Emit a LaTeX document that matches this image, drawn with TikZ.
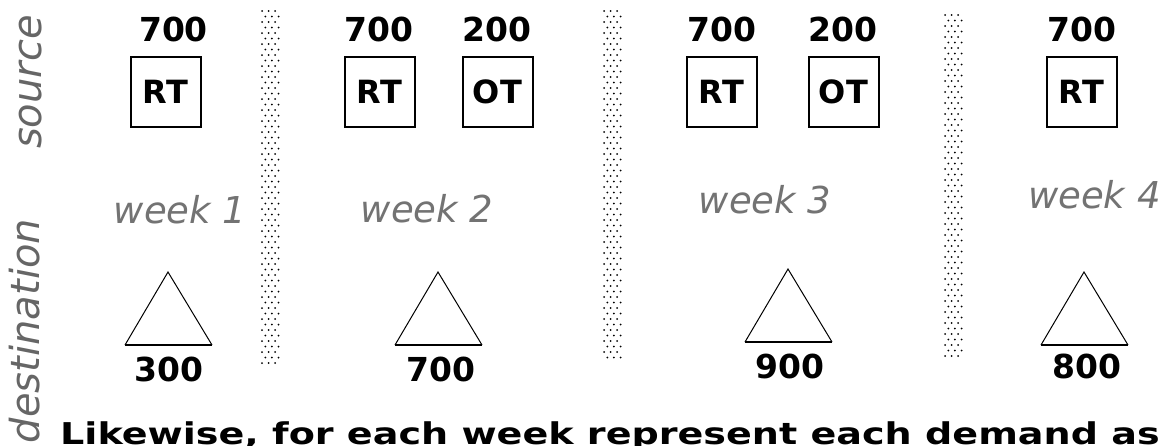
\documentclass[tikz,border=0pt]{standalone}
\usepackage{fontspec}
\setmainfont{DejaVu Sans}
\begin{document}
\begin{tikzpicture}[x=1pt,y=-1pt,
  num/.style={font=\fontsize{33}{33}\selectfont\bfseries, inner sep=0pt},
  srcbox/.style={draw, line width=2pt, minimum width=70pt, minimum height=70pt, inner sep=0pt,
     font=\fontsize{32}{32}\selectfont\bfseries},
  wk/.style={font=\fontsize{37}{37}\selectfont\itshape, text=black!55, inner sep=0pt},
  side/.style={font=\fontsize{40}{40}\selectfont\itshape, text=black!60, inner sep=0pt, rotate=90},
  tri/.style={line width=1pt},
  base/.style={line width=2pt},
]
\useasboundingbox (0,0) rectangle (1167,445);
\clip (0,0) rectangle (1167,445);
\fill[white] (0,0) rectangle (1167,445);

% dotted strips
\foreach \sx/\sy/\n in {260/11/64, 602/11/63, 943/15/62}{
  \foreach \r in {0,...,\n}{
    \pgfmathsetmacro\yy{\sy+5.5*\r}
    \pgfmathsetmacro\xo{\sx+2+3.3*mod(\r,2)}
    \foreach \k in {0,1,2}{\fill (\xo+6.6*\k,\yy) circle (1pt);}
  }
}

% side labels
\node[side] (src) at (31,82) {source};
\node[side] (dst) at (25,331) {destination};

% week 1
\node[num] (n1a) at (173.5,29.5) {700};
\node[srcbox] (rt1) at (165.5,91.5) {RT};
\node[wk] (w1) at (180,210) {week 1};
\coordinate (t1a) at (168,272); \coordinate (t1l) at (125,345); \coordinate (t1r) at (212,345);
\draw[tri] (t1l) -- (t1a) -- (t1r); \draw[base] (t1l) -- (t1r);
\node[num] (d1) at (169,369) {300};

% week 2
\node[num] (n2a) at (379,29.5) {700};
\node[num] (n2b) at (497,29.5) {200};
\node[srcbox] (rt2) at (379.5,91.5) {RT};
\node[srcbox] (ot2) at (497.5,91.5) {OT};
\node[wk] (w2) at (427,209) {week 2};
\coordinate (t2a) at (438,272); \coordinate (t2l) at (395,345); \coordinate (t2r) at (482,345);
\draw[tri] (t2l) -- (t2a) -- (t2r); \draw[base] (t2l) -- (t2r);
\node[num] (d2) at (441,369) {700};

% week 3
\node[num] (n3a) at (722,29.5) {700};
\node[num] (n3b) at (843,29.5) {200};
\node[srcbox] (rt3) at (721.5,91.5) {RT};
\node[srcbox] (ot3) at (843.5,91.5) {OT};
\node[wk] (w3) at (765,200) {week 3};
\coordinate (t3a) at (788,269); \coordinate (t3l) at (745,342); \coordinate (t3r) at (832,342);
\draw[tri] (t3l) -- (t3a) -- (t3r); \draw[base] (t3l) -- (t3r);
\node[num] (d3) at (790,366) {900};

% week 4
\node[num] (n4a) at (1081.5,29.5) {700};
\node[srcbox] (rt4) at (1081.5,92) {RT};
\node[wk, anchor=west] (w4) at (1028,195) {week 4};
\coordinate (t4a) at (1084,272); \coordinate (t4l) at (1041,345); \coordinate (t4r) at (1128,345);
\draw[tri] (t4l) -- (t4a) -- (t4r); \draw[base] (t4l) -- (t4r);
\node[num] (d4) at (1087,366) {800};

% bottom text
\node[font=\fontsize{30}{30}\selectfont\bfseries, anchor=base west, inner sep=0pt] (note) at (60,444)
  {\scalebox{1.27}[1]{Likewise, for each week represent each demand as}};
\end{tikzpicture}
\end{document}
